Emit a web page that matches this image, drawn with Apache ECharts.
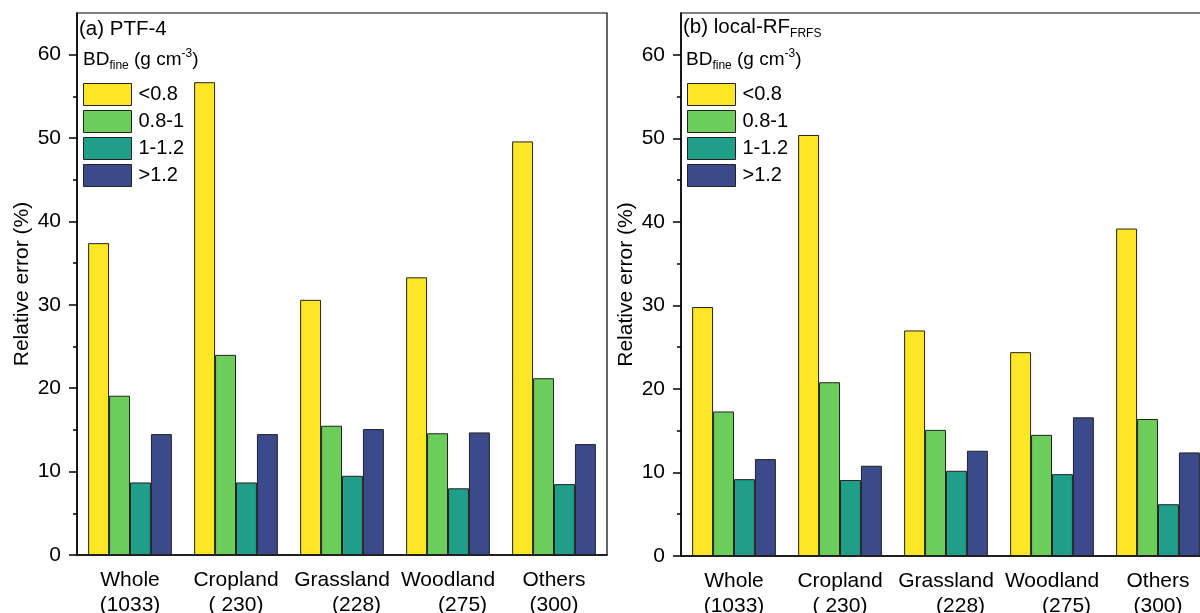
<!DOCTYPE html>
<html>
<head>
<meta charset="utf-8">
<script src="https://cdn.jsdelivr.net/npm/echarts@6/dist/echarts.min.js"></script>
<style>
  html, body { margin: 0; padding: 0; background: #fff; }
  #chart { width: 1200px; height: 613px; }
</style>
</head>
<body>
<div id="chart"></div>
<script>
const categories = ['Whole\n(1033)', 'Cropland\n( 230)', 'Grassland\n     (228)', 'Woodland\n     (275)', 'Others\n(300)'];
const classNames = ['<0.8', '0.8-1', '1-1.2', '>1.2'];
const classColors = ['#FDE725', '#6CCE5A', '#1F9E89', '#3B4A8A'];

// (a) PTF-4
const ptfLt08 = [37.4, 56.7, 30.6, 33.3, 49.6];
const ptf08to1 = [19.1, 24.0, 15.5, 14.6, 21.2];
const ptf1to12 = [8.7, 8.7, 9.5, 8.0, 8.5];
const ptfGt12 = [14.5, 14.5, 15.1, 14.7, 13.3];

// (b) local-RF FRFS
const rfLt08 = [29.8, 50.4, 27.0, 24.4, 39.2];
const rf08to1 = [17.3, 20.8, 15.1, 14.5, 16.4];
const rf1to12 = [9.2, 9.1, 10.2, 9.8, 6.2];
const rfGt12 = [11.6, 10.8, 12.6, 16.6, 12.4];

const majorTicks = [0, 10, 20, 30, 40, 50, 60];
const minorTicks = [5, 15, 25, 35, 45, 55];

const font = 'Arial, "Liberation Sans", sans-serif';
const chart = echarts.init(document.getElementById('chart'), null, { renderer: 'canvas' });

const grids = [
  { left: 77, top: 13, width: 530, height: 542 },
  { left: 681, top: 13, width: 530, height: 543 }
];

function xAxisFor(i) {
  return {
    type: 'category', gridIndex: i, data: categories,
    axisLine: { lineStyle: { color: '#000', width: 1.5 } },
    axisTick: { alignWithLabel: true, length: 8, lineStyle: { color: '#000', width: 1.5 } },
    axisLabel: { interval: 0, color: '#000', fontSize: 21, lineHeight: 25, fontFamily: font, margin: 13 }
  };
}
function yAxisFor(i) {
  return {
    type: 'value', gridIndex: i, min: 0, max: 65, interval: 10,
    name: 'Relative error (%)', nameLocation: 'middle', nameGap: 44, nameRotate: 90,
    nameTextStyle: { color: '#000', fontSize: 21, fontFamily: font },
    axisLine: { show: true, lineStyle: { color: '#000', width: 1.5 } },
    axisTick: { show: true, length: 8, customValues: majorTicks, lineStyle: { color: '#000', width: 1.5 } },
    axisLabel: { color: '#000', fontSize: 21, fontFamily: font, margin: 16, customValues: majorTicks },
    splitLine: { show: false }
  };
}
function minorAxisFor(i) {
  return {
    type: 'value', gridIndex: i, min: 0, max: 65, interval: 10, position: 'left',
    axisLine: { show: false },
    axisTick: { show: true, length: 4, customValues: minorTicks, lineStyle: { color: '#000', width: 1.5 } },
    axisLabel: { show: false },
    splitLine: { show: false }
  };
}

const panels = [
  [ptfLt08, ptf08to1, ptf1to12, ptfGt12],
  [rfLt08, rf08to1, rf1to12, rfGt12]
];

const series = [];
panels.forEach((vals, p) => {
  vals.forEach((data, k) => {
    series.push({
      type: 'bar', name: classNames[k], data: data,
      xAxisIndex: p, yAxisIndex: p * 2,
      barGap: '0%', barCategoryGap: '21%',
      itemStyle: { color: classColors[k], borderColor: '#222', borderWidth: 1 },
      emphasis: { disabled: true }
    });
  });
});

const legendBase = {
  orient: 'vertical', top: 78, itemWidth: 48, itemHeight: 22, itemGap: 4,
  selectedMode: false, icon: 'rect', data: classNames,
  textStyle: { color: '#000', fontSize: 20, fontFamily: font, padding: [0, 0, 0, 2] },
  itemStyle: { borderColor: '#222', borderWidth: 1 }
};

const richBase = {
  t: { fontSize: 19, lineHeight: 24, fontFamily: font, fill: '#000' },
  h: { fontSize: 20.5, lineHeight: 24, fontFamily: font, fill: '#000' },
  sub: { fontSize: 12, lineHeight: 8, verticalAlign: 'bottom', fontFamily: font, fill: '#000' },
  sup: { fontSize: 12, lineHeight: 18, verticalAlign: 'top', fontFamily: font, fill: '#000' }
};
function label(x, y, text) {
  return {
    type: 'text', left: x, top: y, z: 100,
    style: { text: text, rich: richBase, fill: '#000', font: '19px ' + font }
  };
}

chart.setOption({
  backgroundColor: '#fff',
  animation: false,
  grid: grids.map(g => Object.assign({ show: true, borderColor: '#000', borderWidth: 1.2, outerBoundsMode: 'none', containLabel: false }, g)),
  xAxis: [xAxisFor(0), xAxisFor(1)],
  yAxis: [yAxisFor(0), minorAxisFor(0), yAxisFor(1), minorAxisFor(1)],
  legend: [
    Object.assign({ left: 78 }, legendBase),
    Object.assign({ left: 682 }, legendBase)
  ],
  graphic: [
    label(79, 19, '{h|(a) PTF-4}'),
    label(83, 48, '{t|BD}{sub|fine}{t| (g cm}{sup|-3}{t|)}'),
    label(683, 17, '{h|(b) local-RF}{sub|FRFS}'),
    label(686, 48, '{t|BD}{sub|fine}{t| (g cm}{sup|-3}{t|)}')
  ],
  series: series
});
</script>
</body>
</html>
